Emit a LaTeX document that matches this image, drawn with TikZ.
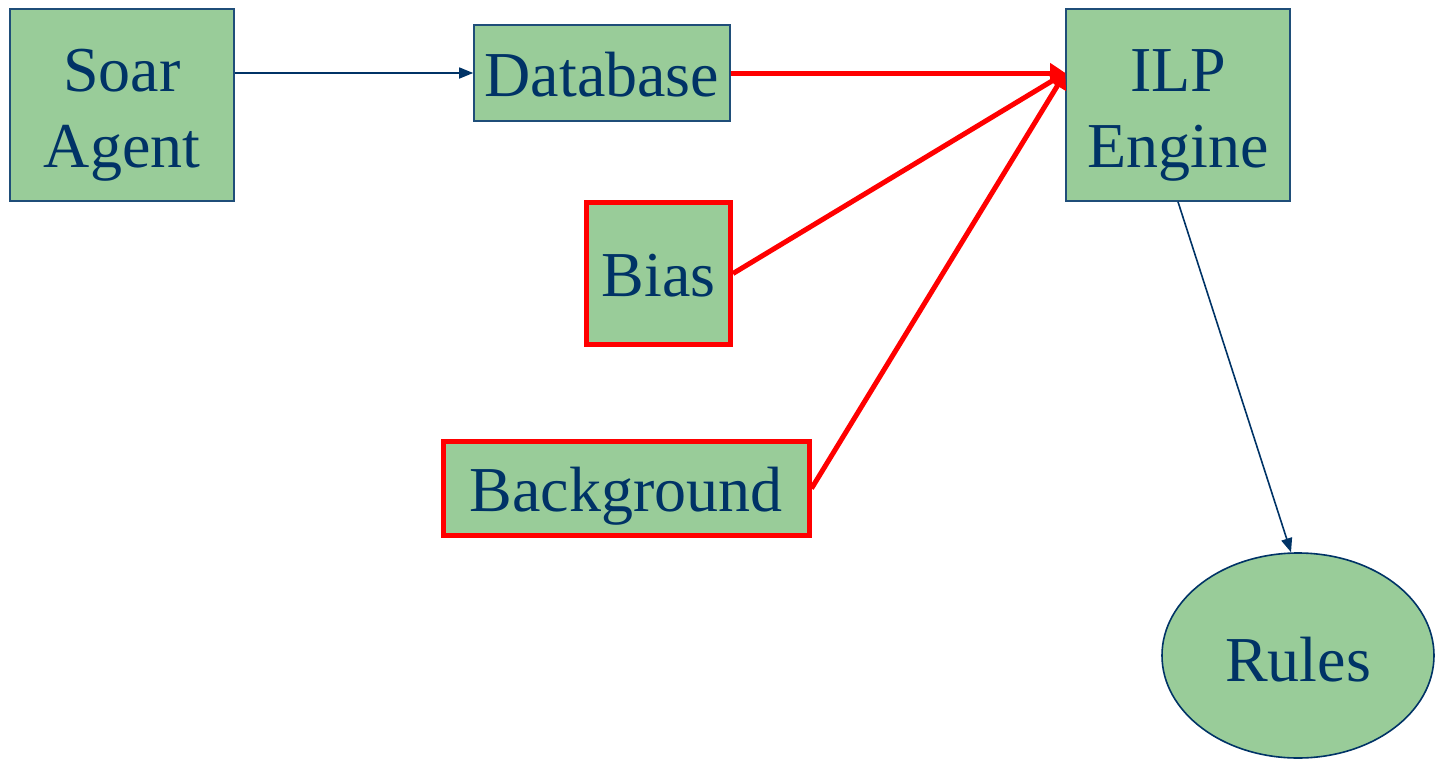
\documentclass[tikz,border=0pt]{standalone}
\usepackage{fontspec}
\setmainfont{Liberation Serif}
\usetikzlibrary{arrows.meta,shapes.geometric,calc}
\definecolor{boxfill}{HTML}{99CC99}
\definecolor{navy}{HTML}{003366}
\definecolor{bordernavy}{HTML}{1F4E79}
\definecolor{hotred}{HTML}{FF0000}
\newcommand{\linetext}[2]{\makebox[0pt]{\raisebox{#1}[0pt][0pt]{#2}}}
\begin{document}
\begin{tikzpicture}[x=1pt,y=-1pt,
  lbl/.style={font=\fontsize{64}{77}\selectfont, text=navy, inner sep=0pt},
  gbox/.style={lbl, rectangle, fill=boxfill, draw=bordernavy, line width=1.6pt},
  rbox/.style={lbl, rectangle, fill=boxfill, draw=hotred, line width=5pt},
  navyarrow/.style={draw=navy, line width=1.6pt, -{Triangle[length=14pt,width=11pt]}},
  redarrow/.style={draw=hotred, line width=5pt, -{Triangle[length=15pt,width=20pt,line width=1pt]}}
]
\useasboundingbox (0,0) rectangle (1436,761);
\node[gbox, minimum width=224pt, minimum height=192pt] (soar) at (122,105) {\linetext{14pt}{Soar}\linetext{-62pt}{Agent}};
\node[gbox, minimum width=256pt, minimum height=96pt] (db) at (602,73) {\linetext{-23pt}{Database}};
\node[gbox, minimum width=224pt, minimum height=192pt] (ilp) at (1178,105) {\linetext{14pt}{ILP}\linetext{-62pt}{Engine}};
\node[rbox, minimum width=144pt, minimum height=142pt] (bias) at (658.5,273.5) {\linetext{-22.5pt}{Bias}};
\node[rbox, minimum width=366pt, minimum height=94pt] (bg) at (626,488.5) {\linetext{-23pt}{Background}};
\node[lbl, ellipse, fill=boxfill, draw=navy, line width=1.6pt, minimum width=272pt, minimum height=205pt] (rules) at (1298,655.5) {\linetext{-26pt}{Rules}};
\coordinate (tip) at (ilp.west |- db.east);
\draw[navyarrow] (soar.east |- db.west) -- (db.west);
\draw[redarrow] (db.east) -- (tip);
\draw[redarrow] (bias.east) -- (tip);
\draw[redarrow] (bg.east) -- (tip);
\draw[navyarrow] (ilp.south) -- ($(rules.north)+(-7,0)$);
\end{tikzpicture}
\end{document}
